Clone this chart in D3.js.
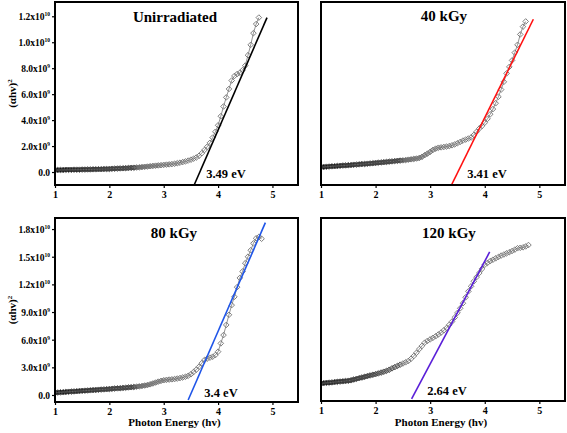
<!DOCTYPE html>
<html><head><meta charset="utf-8">
<script src="https://cdn.jsdelivr.net/npm/d3@7"></script>
<style>body{margin:0;background:#fff}svg{display:block}text{font-family:"Liberation Serif","Times New Roman",serif;font-weight:bold}</style>
</head><body><div id="chart"></div>
<script>
// ---- DATA (y values in units of 1e9) ----
const energy = [1.00,1.05,1.10,1.15,1.20,1.25,1.30,1.35,1.40,1.45,1.50,1.55,1.60,1.65,1.70,1.75,1.80,1.85,1.90,1.95,
  2.00,2.05,2.10,2.15,2.20,2.25,2.30,2.35,2.40,2.45,2.50,2.55,2.60,2.65,2.70,2.75,2.80,2.85,2.90,2.95,
  3.00,3.05,3.10,3.15,3.20,3.25,3.30,3.35,3.40,3.45,3.50,3.55,3.60,3.65,3.70,3.75,3.80,3.85,3.90,3.95,
  4.00,4.05,4.10,4.15,4.20,4.25,4.30,4.35,4.40,4.45,4.50,4.55,4.60,4.65,4.70,4.75,4.80];
const unirradiated = [0.15,0.15,0.16,0.16,0.17,0.17,0.17,0.18,0.18,0.18,0.19,0.19,0.20,0.20,0.21,0.21,0.22,0.22,0.23,0.23,
  0.24,0.25,0.26,0.27,0.28,0.29,0.30,0.31,0.32,0.33,0.35,0.36,0.38,0.40,0.42,0.45,0.47,0.49,0.51,0.53,
  0.55,0.57,0.59,0.61,0.64,0.68,0.72,0.77,0.82,0.88,0.95,1.03,1.12,1.25,1.45,1.70,1.95,2.25,2.65,3.10,
  3.60,4.30,5.05,5.75,6.40,7.05,7.40,7.55,7.65,7.85,8.20,9.00,9.80,10.70,11.40,11.90,null];
const kGy40 = [0.38,0.39,0.41,0.42,0.44,0.45,0.47,0.48,0.50,0.51,0.53,0.54,0.56,0.57,0.59,0.61,0.62,0.64,0.66,0.68,
  0.70,0.72,0.74,0.76,0.78,0.80,0.82,0.84,0.86,0.88,0.90,0.92,0.95,0.98,1.01,1.04,1.08,1.17,1.30,1.42,
  1.55,1.70,1.80,1.87,1.90,1.93,1.96,2.00,2.06,2.13,2.22,2.32,2.42,2.50,2.58,2.66,2.85,3.10,3.35,3.55,
  3.80,4.10,4.45,4.85,5.30,5.80,6.35,6.95,7.60,8.10,8.60,9.20,9.80,10.60,11.20,11.60,null];
const kGy80 = [0.25,0.27,0.29,0.31,0.33,0.35,0.37,0.39,0.41,0.43,0.45,0.47,0.49,0.51,0.53,0.55,0.57,0.59,0.61,0.63,
  0.65,0.67,0.70,0.72,0.74,0.77,0.79,0.82,0.85,0.87,0.90,0.94,0.98,1.03,1.08,1.16,1.25,1.35,1.45,1.53,
  1.60,1.64,1.67,1.70,1.73,1.78,1.84,1.90,1.98,2.08,2.25,2.50,2.75,3.07,3.45,3.80,3.95,4.05,4.15,4.33,
  4.70,5.60,6.50,7.60,8.70,9.75,10.65,11.70,12.70,13.40,14.30,15.00,15.70,16.45,17.00,17.15,16.95];
const kGy120 = [1.16,1.19,1.22,1.24,1.27,1.30,1.33,1.36,1.39,1.42,1.45,1.50,1.58,1.66,1.73,1.80,1.88,1.96,2.03,2.10,
  2.17,2.25,2.34,2.43,2.53,2.65,2.80,2.93,3.07,3.20,3.33,3.46,3.60,3.85,4.15,4.50,4.90,5.25,5.60,5.80,
  5.96,6.13,6.30,6.50,6.70,6.95,7.20,7.55,7.90,8.35,8.85,9.35,9.90,10.55,11.20,11.75,12.30,12.75,13.20,13.65,
  14.10,14.30,14.50,14.65,14.80,14.95,15.10,15.22,15.35,15.47,15.60,15.75,15.90,15.95,16.00,16.10,16.25];
// linear fits (endpoints, energy / 1e9)
const fitUnirradiated = [[3.56,-1.0],[4.90,11.9]];
const fit40 = [[3.39,-1.0],[4.89,11.77]];
const fit80 = [[3.45,-0.54],[4.87,18.7]];
const fit120 = [[2.66,-0.54],[4.09,15.5]];
const titles = ["Unirradiated","40 kGy","80 kGy","120 kGy"];
const gapLabels = ["3.49 eV","3.41 eV","3.4 eV","2.64 eV"];
const xTicks = [1,2,3,4,5];
const yTicksTop = [0,2,4,6,8,10,12];
const yTickTextTop = [["0.0",""],["2.0x10","9"],["4.0x10","9"],["6.0x10","9"],["8.0x10","9"],["1.0x10","10"],["1.2x10","10"]];
const yTicksBottom = [0,3,6,9,12,15,18];
const yTickTextBottom = [["0.0",""],["3.0x10","9"],["6.0x10","9"],["9.0x10","9"],["1.2x10","10"],["1.5x10","10"],["1.8x10","10"]];
const xTitle = "Photon Energy (hv)";

// ---- LAYOUT ----
const W=567,H=433;
const svg=d3.select("#chart").append("svg").attr("width",W).attr("height",H);
const panels=[
 {l:55,r:298,t:2,b:185,y:unirradiated,fit:fitUnirradiated,dom:[-1.0,13.1],col:"#000",ticks:yTicksTop,tt:yTickTextTop,title:[175,22],gap:[226,178],xt:false,band:3.6},
 {l:321,r:565,t:2,b:185,y:kGy40,fit:fit40,dom:[-1.0,13.1],col:"#ff1010",ticks:null,title:[444,21],gap:[487,178],xt:false,band:3.6},
 {l:55,r:298,t:218,b:402,y:kGy80,fit:fit80,dom:[-0.76,19.2],col:"#1f55e8",ticks:yTicksBottom,tt:yTickTextBottom,title:[174,238],gap:[221,397],xt:true,band:3.6},
 {l:321,r:565,t:218,b:401,y:kGy120,fit:fit120,dom:[-0.76,19.2],col:"#5a1fd8",ticks:null,title:[449,238],gap:[447,395],xt:true,band:2.6}
];
const diamond=d3.symbol().type(d3.symbolDiamond2).size(20);
const defs=svg.append("defs");
panels.forEach((p,i)=>{
  const x=d3.scaleLinear().domain([1,5.47]).range([p.l,p.r]);
  const y=d3.scaleLinear().domain(p.dom).range([p.b,p.t]);
  const g=svg.append("g");
  const cid="clip"+i;
  defs.append("clipPath").attr("id",cid).append("rect").attr("x",p.l).attr("y",p.t).attr("width",p.r-p.l).attr("height",p.b-p.t);
  const gid="grad"+i;
  const gr=defs.append("linearGradient").attr("id",gid).attr("gradientUnits","userSpaceOnUse")
    .attr("x1",x(1)).attr("x2",x(p.band)).attr("y1",0).attr("y2",0);
  gr.append("stop").attr("offset","0%").attr("stop-color","#111").attr("stop-opacity",1);
  gr.append("stop").attr("offset","55%").attr("stop-color","#444").attr("stop-opacity",0.9);
  gr.append("stop").attr("offset","100%").attr("stop-color","#999").attr("stop-opacity",0);
  const pts=energy.map((e,k)=>[e,p.y[k]]).filter(d=>d[1]!=null);
  const pg=g.append("g").attr("clip-path",`url(#${cid})`);
  const line=d3.line().x(d=>x(d[0])).y(d=>y(d[1]));
  pg.append("path").datum(pts).attr("d",line)
    .attr("fill","none").attr("stroke",`url(#${gid})`).attr("stroke-width",4.5);
  pg.append("path").datum(pts).attr("d",line)
    .attr("fill","none").attr("stroke","#777").attr("stroke-width",0.8);
  pg.selectAll("path.pt").data(pts).join("path").attr("class","pt")
    .attr("transform",d=>`translate(${x(d[0])},${y(d[1])})`).attr("d",diamond)
    .attr("fill","none").attr("stroke",d=>d[0]<2.5?"#444":"#707070").attr("stroke-width",0.9);
  pg.append("path").datum(p.fit).attr("d",line)
    .attr("fill","none").attr("stroke",p.col).attr("stroke-width",1.6);
  // x axis
  const xa=g.append("g").attr("transform",`translate(0,${p.b})`)
    .call(d3.axisBottom(x).tickValues(xTicks).tickSize(3).tickPadding(3).tickFormat(d3.format("d")));
  xa.select(".domain").remove();
  xa.selectAll("line").attr("stroke","#000").attr("stroke-width",1.2);
  xa.selectAll("text").attr("font-size",10).attr("font-family","Liberation Serif").attr("font-weight","bold").attr("fill","#000");
  // y axis
  if(p.ticks){
    const ya=g.append("g").attr("transform",`translate(${p.l},0)`)
      .call(d3.axisLeft(y).tickValues(p.ticks).tickSize(3).tickPadding(2).tickFormat(""));
    ya.select(".domain").remove();
    ya.selectAll("line").attr("stroke","#000").attr("stroke-width",1.2);
    ya.selectAll(".tick").each(function(d,k){
      const t=d3.select(this).select("text").text(null)
        .attr("font-size",9.5).attr("font-family","Liberation Serif").attr("font-weight","bold").attr("fill","#000").attr("dy","0.35em");
      const lab=p.tt[k];
      t.append("tspan").text(lab[0]);
      if(lab[1]) t.append("tspan").attr("dy","-4").attr("font-size",5.5).text(lab[1]);
    });
    svg.append("text").attr("transform",`translate(16,${(p.t+p.b)/2}) rotate(-90)`)
      .attr("text-anchor","middle").attr("font-size",11).attr("fill","#000")
      .call(t=>{t.append("tspan").text("(αhv)");t.append("tspan").attr("dy","-4").attr("font-size",7).text("2");});
  }
  // frame
  g.append("rect").attr("x",p.l).attr("y",p.t).attr("width",p.r-p.l).attr("height",p.b-p.t)
    .attr("fill","none").attr("stroke","#000").attr("stroke-width",2);
  g.append("text").attr("x",p.title[0]).attr("y",p.title[1]).attr("text-anchor","middle")
    .attr("font-size",15).attr("fill","#000").text(titles[i]);
  g.append("text").attr("x",p.gap[0]).attr("y",p.gap[1]).attr("text-anchor","middle")
    .attr("font-size",12.5).attr("fill","#000").text(gapLabels[i]);
  if(p.xt){
    g.append("text").attr("x",(p.l+p.r)/2-2).attr("y",426).attr("text-anchor","middle")
      .attr("font-size",11).attr("fill","#000").text(xTitle);
  }
});
</script></body></html>
